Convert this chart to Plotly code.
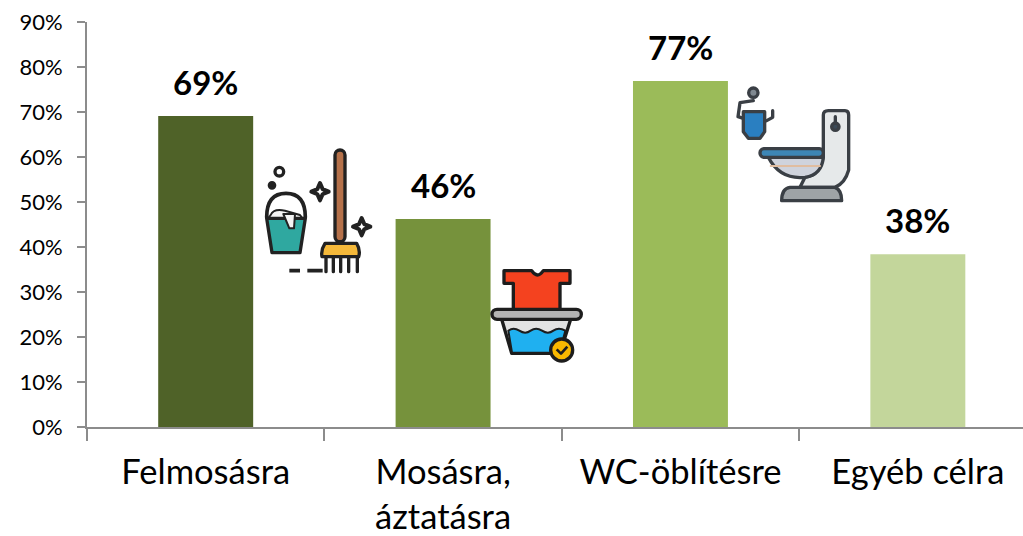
import base64
import plotly.graph_objects as go

categories = ["Felmosásra", "Mosásra,<br>áztatásra", "WC-öblítésre", "Egyéb célra"]
values = [69.1, 46.2, 76.9, 38.4]
labels = ["69%", "46%", "77%", "38%"]
colors = ["#4f6228", "#76923c", "#9bbb59", "#c3d69b"]
y_ticks = list(range(0, 100, 10))

FONT = "Lato, Carlito, Calibri, sans-serif"
W, H = 1023, 536
L, R, T, B = 87, 0, 22, 109
PW, PH = W - L - R, H - T - B


def uri(svg):
    return "data:image/svg+xml;base64," + base64.b64encode(svg.encode()).decode()


def star(cx, cy, r):
    k = r * 0.3
    return (f'<path d="M{cx},{cy-r} L{cx+k},{cy-k} L{cx+r},{cy} L{cx+k},{cy+k} L{cx},{cy+r} '
            f'L{cx-k},{cy+k} L{cx-r},{cy} L{cx-k},{cy-k} Z" fill="#fff" stroke="#222" stroke-width="12" stroke-linejoin="round"/>')


broom = f'''<svg xmlns="http://www.w3.org/2000/svg" viewBox="0 0 390 420" width="390" height="420">
<g stroke="#222" stroke-width="10" stroke-linejoin="round" stroke-linecap="round">
<rect x="255" y="30" width="30" height="275" rx="15" fill="#b5714a"/>
<path d="M228,348 L228,395 M250,352 L250,395 M272,352 L272,395 M296,352 L296,395 M322,348 L322,395" fill="none" stroke-width="10"/>
<path d="M225,310 L320,310 Q332,330 326,350 L216,350 Q212,330 225,310 Z" fill="#f5b93a"/>
<path d="M50,232 Q50,160 108,160 Q166,160 166,232" fill="none" stroke-width="11"/>
<path d="M62,225 Q70,205 105,212 L150,225 L160,238 L52,238 Z" fill="#f4f4f4" stroke-width="6"/>
<path d="M50,235 L166,235 L150,338 L66,338 Z" fill="#2fa8a0"/>
<path d="M100,222 L135,222 L132,265 L118,265 Z" fill="#f4f4f4" stroke-width="6"/>
<circle cx="88" cy="95" r="13" fill="#fff"/>
<circle cx="66" cy="136" r="8" fill="#222"/>
<path d="M118,392 L150,392 M172,392 L218,392" stroke-width="11" fill="none" stroke-linecap="butt"/>
</g>
{star(210,155,26)}{star(335,260,26)}
</svg>'''

wash = '''<svg xmlns="http://www.w3.org/2000/svg" viewBox="0 0 330 330" width="330" height="330">
<g stroke="#1d1d1d" stroke-width="10" stroke-linejoin="round">
<path d="M72,32 L155,32 Q172,58 190,32 L270,32 L270,70 L240,70 L240,150 L100,150 L100,70 L72,70 Z" fill="#f4421f"/>
<path d="M65,178 L272,178 L240,280 L95,280 Z" fill="#e2e2e2"/>
<path d="M85,212 Q100,200 118,212 T152,212 T186,212 T220,212 T256,212 L238,278 L96,278 Z" fill="#1fb0f0" stroke-width="6"/>
<rect x="36" y="148" width="268" height="30" rx="15" fill="#b4b4b4"/>
<circle cx="245" cy="270" r="33" fill="#f9b800"/>
<path d="M230,268 L243,281 L262,260" fill="none" stroke-width="8"/>
</g></svg>'''

toilet = '''<svg xmlns="http://www.w3.org/2000/svg" viewBox="0 0 390 375" width="390" height="375">
<g stroke="#3a3f45" stroke-width="10" stroke-linejoin="round" stroke-linecap="round">
<path d="M70,62 L30,68 L24,110 L40,115" fill="none"/>
<circle cx="70" cy="38" r="14" fill="#7f8890"/>
<path d="M40,95 L104,95 L104,155 L90,175 L55,175 L40,155 Z" fill="#2a7fc1"/>
<path d="M110,122 L128,112 L128,92" fill="none"/>
<path d="M280,105 Q280,92 295,92 L345,92 Q356,92 356,105 L356,270 Q345,310 315,322 L210,322 L225,292 Q270,285 280,230 Z" fill="#e6e9ea"/>
<path d="M115,232 L280,232 Q275,285 225,292 Q150,300 115,232 Z" fill="#cfd3dc"/>
<path d="M122,258 L270,258" stroke="#e0bda0" stroke-width="6"/>
<rect x="90" y="206" width="190" height="26" rx="12" fill="#3d86b5"/>
<path d="M155,362 Q155,325 180,322 L315,322 Q335,330 335,362 Z" fill="#9ea3a6"/>
<circle cx="316" cy="140" r="11" fill="#3a4a58"/>
<path d="M316,110 L316,130"/>
</g></svg>'''

icons = [(broom, 250, 140, 130, 140), (wash, 480, 260, 110, 110), (toilet, 730, 80, 130, 125)]

fig = go.Figure(go.Bar(x=categories, y=values, marker=dict(color=colors, line_width=0), width=0.4,
                       hoverinfo="skip"))

for c, v, t in zip(categories, values, labels):
    fig.add_annotation(x=c, y=v, text=f"<b>{t}</b>", showarrow=False, yanchor="bottom", yshift=12,
                       font=dict(family=FONT, size=33, color="#000"))

fig.update_layout(
    width=W, height=H, margin=dict(l=L, r=R, t=T, b=B, autoexpand=False),
    paper_bgcolor="#fff", plot_bgcolor="#fff", showlegend=False,
    images=[dict(source=uri(s), xref="paper", yref="paper", x=(x - L) / PW, y=(H - B - y) / PH,
                 sizex=w / PW, sizey=h / PH, xanchor="left", yanchor="top", sizing="stretch", layer="above")
            for s, x, y, w, h in icons],
)
fig.update_xaxes(type="category", range=[-0.5, 3.443], tickson="boundaries", ticks="outside", ticklen=12,
                 tickwidth=2, tickcolor="#8c8c8c", showline=True, linecolor="#8c8c8c", linewidth=2,
                 showgrid=False, tickfont=dict(family=FONT, size=34.5, color="#000"), tickangle=0,
                 ticklabelstandoff=14)
fig.update_yaxes(range=[0, 90], tickvals=y_ticks, ticktext=[f"{t}%" for t in y_ticks], ticks="outside", ticklen=8,
                 tickwidth=2, tickcolor="#8c8c8c", showline=True, linecolor="#8c8c8c", linewidth=2,
                 showgrid=False, zeroline=False, tickfont=dict(family=FONT, size=22, color="#000"),
                 ticklabelstandoff=10)

fig.write_html("out.html", config=dict(displayModeBar=False),
               post_script="document.body.style.margin='0';")
